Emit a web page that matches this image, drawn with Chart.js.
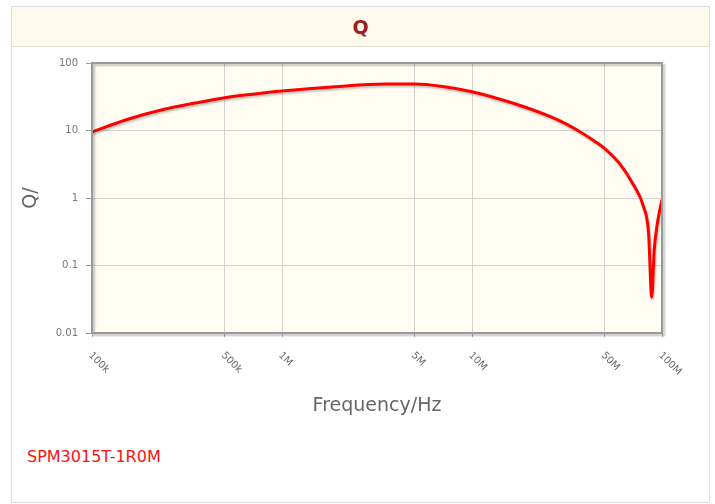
<!DOCTYPE html>
<html>
<head>
<meta charset="utf-8">
<script src="https://cdn.jsdelivr.net/npm/chart.js@4.4.0/dist/chart.umd.min.js"></script>
<style>
  body { margin: 0; background: #fff; font-family: "DejaVu Sans", sans-serif; }
  #panel { position: absolute; left: 11px; top: 6px; width: 697px; height: 495px; border: 1px solid #dcdcdc; }
  #head { height: 39px; background: #fefaec; border-bottom: 1px solid #e2ded2; text-align: center;
          line-height: 40px; font-size: 19px; font-weight: bold; color: #9c1f1f; }
  #wrap { position: absolute; left: 0; top: 47px; width: 715px; height: 390px; }
  #part { position: absolute; left: 27px; top: 447px; font-size: 16px; color: #ff1010; }
</style>
</head>
<body>
<div id="panel"><div id="head">Q</div></div>
<div id="wrap"><canvas id="qChart"></canvas></div>
<div id="part">SPM3015T-1R0M</div>
<script>
// frequency (Hz) and Q
const freqs = [1e5, 1.5e5, 2.4e5, 3.5e5, 5e5, 7e5, 1e6, 1.9e6, 3.5e6, 5e6, 7e6, 1e7,
  1.65e7, 2.7e7, 3.7e7, 4.4e7, 5e7, 6e7, 7e7, 8e7, 8.5e7, 8.83e7, 9.1e7, 9.45e7, 1e8];
const qValues = [9.5, 14.3, 20.6, 25.5, 30.6, 34.5, 38.5, 44.6, 48.9, 48.9, 45, 37.6,
  25.3, 15.2, 9.6, 7.0, 5.4, 3.2, 1.65, 0.74, 0.3, 0.034, 0.17, 0.42, 0.95];

// tick labels
const xTicks = [1e5, 5e5, 1e6, 5e6, 1e7, 5e7, 1e8];
const xTickLabels = ['100k', '500k', '1M', '5M', '10M', '50M', '100M'];
const yTicks = [0.01, 0.1, 1, 10, 100];
const yTickLabels = ['0.01', '0.1', '1', '10', '100'];

const points = freqs.map((f, i) => ({ x: f, y: qValues[i] }));

// cream plot background + framed border, and the rotated x labels
const plotDeco = {
  id: 'plotDeco',
  beforeDraw(chart) {
    const { ctx, chartArea: a } = chart;
    ctx.save();
    ctx.fillStyle = '#fffcf2';
    ctx.fillRect(a.left, a.top, a.right - a.left, a.bottom - a.top);
    ctx.restore();
  },
  beforeDatasetDraw(chart) {
    // soft shadow under the curve
    const ctx = chart.ctx;
    ctx.save();
    ctx.shadowColor = 'rgba(0,0,0,0.22)';
    ctx.shadowOffsetX = 1;
    ctx.shadowOffsetY = 2;
    ctx.shadowBlur = 2;
  },
  afterDatasetDraw(chart) {
    chart.ctx.restore();
  },
  afterDraw(chart) {
    const { ctx, chartArea: a } = chart;
    ctx.save();
    ctx.shadowColor = 'rgba(0,0,0,0.25)';
    ctx.shadowOffsetX = 2;
    ctx.shadowOffsetY = 2;
    ctx.shadowBlur = 2;
    ctx.strokeStyle = '#999';
    ctx.lineWidth = 2;
    ctx.strokeRect(a.left, a.top, a.right - a.left, a.bottom - a.top);
    ctx.restore();

    // x tick labels slant down to the right
    const xs = chart.scales.x;
    ctx.save();
    ctx.font = '10px "DejaVu Sans", sans-serif';
    ctx.fillStyle = '#666';
    ctx.textAlign = 'left';
    ctx.textBaseline = 'middle';
    xTicks.forEach((v, i) => {
      const px = xs.getPixelForValue(v);
      ctx.save();
      ctx.translate(px - 2, a.bottom + 21);
      ctx.rotate(Math.PI / 4);
      ctx.fillText(xTickLabels[i], 0, 0);
      ctx.restore();
    });
    ctx.restore();
  }
};

new Chart(document.getElementById('qChart'), {
  type: 'line',
  data: {
    datasets: [{
      data: points,
      borderColor: '#ff0000',
      borderWidth: 3,
      pointRadius: 0,
      fill: false,
      cubicInterpolationMode: 'monotone'
    }]
  },
  options: {
    responsive: true,
    maintainAspectRatio: false,
    animation: false,
    layout: { padding: { left: 16, top: 16, right: 53, bottom: 16 } },
    plugins: { legend: { display: false }, tooltip: { enabled: false } },
    scales: {
      x: {
        type: 'logarithmic',
        min: 1e5,
        max: 1e8,
        afterBuildTicks(scale) { scale.ticks = xTicks.map(v => ({ value: v })); },
        afterFit(scale) { scale.height = 88; },
        ticks: { display: false },
        grid: { color: '#d2d2d2', lineWidth: 1, tickLength: 4, tickColor: '#aaa' },
        border: { display: false },
        title: {
          display: true,
          text: 'Frequency/Hz',
          color: '#666',
          font: { family: '"DejaVu Sans", sans-serif', size: 19 },
          padding: { top: 0, bottom: 4 }
        }
      },
      y: {
        type: 'logarithmic',
        min: 0.01,
        max: 100,
        afterBuildTicks(scale) { scale.ticks = yTicks.map(v => ({ value: v })); },
        afterFit(scale) { scale.width = 76; },
        ticks: {
          color: '#777',
          font: { family: '"DejaVu Sans", sans-serif', size: 10 },
          padding: 8,
          callback: (v) => yTickLabels[yTicks.indexOf(v)]
        },
        grid: { color: '#d2d2d2', lineWidth: 1, tickLength: 6, tickColor: '#999' },
        border: { display: false },
        title: {
          display: true,
          text: 'Q/',
          color: '#666',
          font: { family: '"DejaVu Sans", sans-serif', size: 19 },
          padding: { top: 4, bottom: 0 }
        }
      }
    }
  },
  plugins: [plotDeco]
});
</script>
</body>
</html>
